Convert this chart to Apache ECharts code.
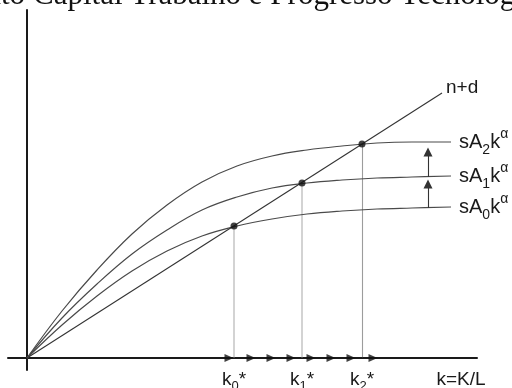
<!DOCTYPE html>
<html>
<head>
<meta charset="utf-8">
<script src="https://cdn.jsdelivr.net/npm/echarts@6/dist/echarts.min.js"></script>
<style>
  html, body { margin: 0; padding: 0; background: #ffffff; }
  #chart { width: 512px; height: 388px; }
</style>
</head>
<body>
<div id="chart"></div>
<script>
// Solow model with technical progress: steady states for A0 < A1 < A2

const titleLead = 'Crescimento';
const titleMain = 'Capital Trabalho e Progresso Tecnológico';

// capital per worker sampled along the saving curves
const kGrid = [0, 35, 70, 105, 140, 175, 210, 245, 280, 315, 350, 385, 424];
const sA0k  = [0, 33, 62, 87, 107, 122, 132, 139, 144, 147, 149, 150, 151];
const sA1k  = [0, 40, 74, 104, 128, 148, 161, 170, 175, 178, 180, 181, 182];
const sA2k  = [0, 47, 88, 124, 153, 176, 192, 202, 208, 212, 215, 216, 216];
const curveIndex = ['0', '1', '2'];

// break-even investment line (n+d)k
const breakEvenK = [0, 415];
const breakEvenY = [0, 265];

// steady states k0*, k1*, k2*
const kStar = [207, 275, 335];
const yStar = [132, 175, 214];
const kStarIndex = ['0', '1', '2'];

// arrows along the k axis (movement of capital per worker)
const flowK = [202, 224, 244, 264, 284, 304, 324, 346];

// upward shifts of the saving curve
const shiftK = 401;
const shiftFrom = [150, 181];
const shiftTo = [174, 206];

// position of the axis name under the k axis
const axisNameK = 434;
const axisName = 'k=K/L';

const FONT = '"Liberation Sans", Arial, sans-serif';
const INK = '#1a1a1a';

const curveRich = {
  m:   { fontSize: 20, lineHeight: 30, fontFamily: FONT, color: INK },
  sub: { fontSize: 14, lineHeight: 18, fontFamily: FONT, color: INK, verticalAlign: 'bottom' },
  sup: { fontSize: 14, lineHeight: 12, fontFamily: FONT, color: INK, verticalAlign: 'top' }
};
const axisRich = {
  m:   { fontSize: 19, lineHeight: 26, fontFamily: FONT, color: INK },
  sub: { fontSize: 13, lineHeight: 12, fontFamily: FONT, color: INK, verticalAlign: 'bottom' }
};

const curves = [sA0k, sA1k, sA2k];
const curveSeries = curves.map((ys, i) => ({
  type: 'line',
  name: 'sA' + curveIndex[i] + 'k^α',
  data: kGrid.map((k, j) => [k, ys[j]]),
  smooth: 0.4,
  symbol: 'none',
  lineStyle: { color: '#4a4a4a', width: 1.2 },
  z: 3,
  endLabel: {
    show: true,
    distance: 8,
    formatter: '{m|sA}{sub|' + curveIndex[i] + '}{m|k}{sup|α}',
    rich: curveRich
  }
}));

const labelLookup = {};
kStar.forEach((k, i) => { labelLookup[k] = '{m|k}{sub|' + kStarIndex[i] + '}{m|*}'; });
labelLookup[axisNameK] = '{m|' + axisName + '}';

const chart = echarts.init(document.getElementById('chart'), null, { renderer: 'canvas' });
chart.setOption({
  animation: false,
  backgroundColor: '#ffffff',
  grid: { left: 8, right: 35, top: 10, bottom: 18, containLabel: false, outerBoundsMode: 'none' },
  xAxis: {
    type: 'value',
    min: -19,
    max: 450,
    axisLine: { show: true, onZero: true, lineStyle: { color: INK, width: 2 } },
    axisTick: { show: false },
    splitLine: { show: false },
    axisLabel: {
      show: true,
      customValues: kStar.concat([axisNameK]),
      margin: -3,
      formatter: v => labelLookup[v] || '',
      rich: axisRich
    }
  },
  yAxis: {
    type: 'value',
    min: -12,
    max: 348,
    axisLine: { show: true, onZero: true, lineStyle: { color: INK, width: 2 } },
    axisTick: { show: false },
    splitLine: { show: false },
    axisLabel: { show: false }
  },
  graphic: [
    {
      type: 'text', x: 25, y: -4, silent: true,
      style: { text: titleLead, fontSize: 31, fontFamily: '"Liberation Serif", serif',
               fill: '#111', textAlign: 'right', textVerticalAlign: 'middle' }
    },
    {
      type: 'text', x: 33, y: -4, silent: true,
      style: { text: titleMain, fontSize: 31, fontFamily: '"Liberation Serif", serif',
               fill: '#111', textAlign: 'left', textVerticalAlign: 'middle' }
    }
  ],
  series: curveSeries.concat([
    {
      type: 'line',
      name: 'n+d',
      data: breakEvenK.map((k, i) => [k, breakEvenY[i]]),
      symbol: 'none',
      lineStyle: { color: '#333', width: 1.1 },
      z: 3,
      endLabel: {
        show: true, distance: 4, offset: [0, -5], formatter: 'n+d',
        fontSize: 19, fontFamily: FONT, color: INK
      }
    },
    {
      type: 'lines',
      coordinateSystem: 'cartesian2d',
      polyline: false,
      symbol: 'none',
      z: 2,
      data: kStar.map((k, i) => ({
        coords: [[k, 0], [k, yStar[i]]],
        lineStyle: i < 2 ? { color: '#8c8c8c', width: 1.5 } : { color: '#3a3a3a', width: 1.1 }
      }))
    },
    {
      type: 'lines',
      coordinateSystem: 'cartesian2d',
      symbol: ['none', 'triangle'],
      symbolSize: 9,
      z: 4,
      lineStyle: { color: '#333', width: 1.1, opacity: 1 },
      itemStyle: { color: '#111' },
      data: shiftFrom.map((y, i) => ({ coords: [[shiftK, y], [shiftK, shiftTo[i]]] }))
    },
    {
      type: 'scatter',
      symbol: 'triangle',
      symbolRotate: -90,
      symbolSize: [8, 9],
      itemStyle: { color: '#111' },
      z: 5,
      data: flowK.map(k => [k, 0])
    },
    {
      type: 'scatter',
      symbolSize: 7,
      itemStyle: { color: '#111' },
      z: 6,
      data: kStar.map((k, i) => [k, yStar[i]])
    }
  ])
});
</script>
</body>
</html>
